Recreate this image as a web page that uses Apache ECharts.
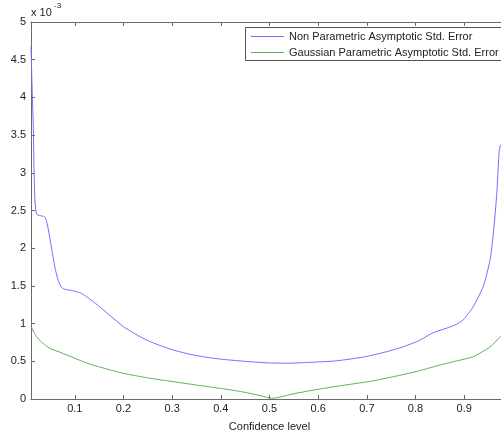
<!DOCTYPE html>
<html>
<head>
<meta charset="utf-8">
<script src="https://cdn.jsdelivr.net/npm/echarts@6/dist/echarts.min.js"></script>
<style>html,body{margin:0;padding:0;background:#fff}#c{width:501px;height:433px}</style>
</head>
<body>
<div id="c"></div>
<script>
// values in units of 1e-3
const blueX = [0.010,0.012,0.013,0.015,0.016,0.018,0.0205,0.024,0.030,0.037,0.041,0.045,0.053,0.060,0.066,0.073,0.080,0.093,0.105,0.114,0.130,0.146,0.170,0.200,0.225,0.248,0.275,0.302,0.335,0.371,0.405,0.440,0.470,0.500,0.540,0.580,0.634,0.666,0.696,0.730,0.764,0.806,0.833,0.855,0.881,0.898,0.918,0.939,0.953,0.960,0.967,0.972,0.975,0.978];
const blueY = [4.68,4.20,3.97,3.53,3.10,2.65,2.47,2.44,2.43,2.42,2.38,2.27,1.97,1.72,1.57,1.48,1.455,1.44,1.42,1.40,1.33,1.25,1.12,0.96,0.86,0.78,0.71,0.65,0.595,0.553,0.525,0.505,0.49,0.478,0.475,0.485,0.504,0.53,0.56,0.61,0.67,0.77,0.87,0.92,0.98,1.05,1.22,1.49,1.84,2.20,2.73,3.30,3.37,3.30];
const greenX = [0.010,0.015,0.020,0.029,0.040,0.049,0.070,0.100,0.132,0.165,0.200,0.250,0.302,0.350,0.400,0.440,0.470,0.500,0.507,0.550,0.600,0.650,0.703,0.750,0.799,0.850,0.881,0.918,0.953,0.975,0.978];
const greenY = [0.96,0.90,0.84,0.77,0.71,0.67,0.62,0.54,0.46,0.40,0.34,0.28,0.23,0.185,0.14,0.10,0.06,0.015,0.01,0.07,0.129,0.18,0.23,0.29,0.36,0.45,0.50,0.56,0.69,0.83,0.85];
const xTicks = [0.1,0.2,0.3,0.4,0.5,0.6,0.7,0.8,0.9];
const yTicks = [0,0.5,1,1.5,2,2.5,3,3.5,4,4.5,5];
const seriesNames = ['Non Parametric Asymptotic Std. Error','Gaussian Parametric Asymptotic Std. Error'];
const xName = 'Confidence level';

const axisColor = '#6a6a6a';
const font = 'Liberation Sans, Arial, sans-serif';
const chart = echarts.init(document.getElementById('c'));
const xCommon = {
  type: 'value', min: 0.01, max: 0.99,
  axisLine: {show: true, lineStyle: {color: axisColor, width: 1}},
  axisTick: {show: true, inside: true, length: 4, customValues: xTicks, lineStyle: {color: axisColor}},
  splitLine: {show: false}
};
chart.setOption({
  animation: false,
  grid: {left: 31, top: 22, width: 477, height: 377, containLabel: false, outerBoundsMode: 'none'},
  xAxis: [
    Object.assign({}, xCommon, {
      position: 'bottom',
      name: xName, nameLocation: 'middle', nameGap: 22,
      nameTextStyle: {fontFamily: font, fontSize: 11, color: '#222'},
      axisLabel: {customValues: xTicks, margin: 4, fontFamily: font, fontSize: 11, color: '#222',
        formatter: v => String(Math.round(v*10)/10)}
    }),
    Object.assign({}, xCommon, {position: 'top', axisLabel: {show: false}})
  ],
  yAxis: [{
    type: 'value', min: 0, max: 5, interval: 0.5,
    axisLine: {show: true, lineStyle: {color: axisColor}},
    axisTick: {show: true, inside: true, length: 4, lineStyle: {color: axisColor}},
    splitLine: {show: false},
    axisLabel: {margin: 5, fontFamily: font, fontSize: 11, color: '#222', formatter: v => String(v)}
  }],
  legend: {
    orient: 'vertical', left: 245, top: 27, z: 10,
    padding: [3, 2, 3, 6], itemGap: 3, itemWidth: 33, itemHeight: 1, icon: 'rect',
    borderWidth: 0, backgroundColor: 'transparent',
    textStyle: {fontFamily: font, fontSize: 11, color: '#222', lineHeight: 13},
    data: seriesNames
  },
  graphic: [
    {type: 'rect', z: 5, shape: {x: 245.5, y: 27.5, width: 270, height: 33},
      style: {fill: '#fff', stroke: '#555', lineWidth: 1}},
    {type: 'text', left: 31, top: 7, style: {text: 'x 10', fontFamily: font, fontSize: 11, fill: '#222'}},
    {type: 'text', left: 54, top: 2, style: {text: '-3', fontFamily: font, fontSize: 8, fill: '#222'}}
  ],
  series: [
    {name: seriesNames[0], type: 'line', symbol: 'none', smooth: 0.2,
      lineStyle: {color: '#6f6fff', width: 1}, itemStyle: {color: '#6f6fff'},
      data: blueX.map((x, i) => [x, blueY[i]])},
    {name: seriesNames[1], type: 'line', symbol: 'none', smooth: 0.2,
      lineStyle: {color: '#5cb05c', width: 1}, itemStyle: {color: '#5cb05c'},
      data: greenX.map((x, i) => [x, greenY[i]])}
  ]
});
</script>
</body>
</html>
